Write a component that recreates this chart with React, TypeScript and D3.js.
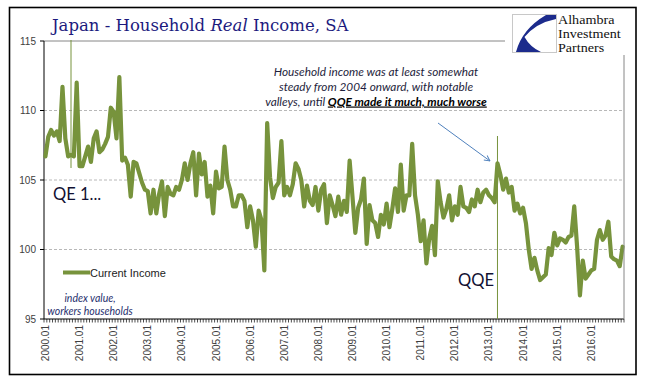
import React from "react";
import * as d3 from "d3";

const W = 645;
const H = 381;

const months: string[] = [];
for (let y = 2000; y <= 2016; y++) {
  for (let m = 1; m <= 12; m++) months.push(`${y}.${String(m).padStart(2, "0")}`);
}

const currentIncome = [
  106.7, 108.1, 108.6, 108.2, 108.5, 107.8, 111.7, 108.0, 106.7, 106.8, 106.7, 112.0,
  106.0, 106.0, 106.7, 107.4, 106.3, 108.0, 108.5, 107.0, 107.2, 107.6, 108.1, 110.2,
  109.9, 108.0, 112.4, 106.4, 106.6, 106.1, 103.8, 106.3, 106.2, 105.5, 104.8, 104.3,
  104.2, 102.6, 104.3, 102.6, 104.0, 104.9, 102.4, 104.5, 104.0, 103.9, 104.5, 104.3,
  105.0, 106.2, 105.0, 106.2, 107.0, 103.9, 106.9, 105.4, 106.3, 103.8, 104.6, 102.6,
  105.6, 104.4, 104.5, 107.4, 105.0, 104.3, 103.1, 103.1, 103.9, 103.9, 103.5, 101.6,
  103.1, 102.1, 100.2, 102.8, 102.1, 98.5, 109.1, 105.2, 103.7, 104.5, 104.8, 107.8,
  103.9, 104.5, 103.9, 104.7, 106.2, 105.8, 105.0, 103.1, 104.6, 103.5, 103.2, 104.5,
  102.8, 104.3, 104.7, 101.9, 103.9, 103.2, 102.4, 103.8, 102.5, 103.5, 102.7, 106.4,
  103.8, 101.2, 103.0, 103.6, 105.1, 100.4, 103.2, 102.1, 101.9, 100.9, 102.5, 101.8,
  103.3, 101.6, 102.9, 104.4, 102.7, 106.1, 102.8, 103.9, 103.9, 107.6, 103.9, 102.5,
  100.6, 102.1, 99.0, 100.8, 101.7, 99.6, 104.9, 103.4, 102.3, 102.9, 103.9, 102.1,
  103.1, 102.5, 104.5, 103.1, 103.0, 102.7, 103.6, 103.1, 104.3, 103.4, 104.1, 104.3,
  103.9, 103.7, 103.4, 106.2, 105.4, 104.3, 105.1, 104.1, 104.5, 102.8, 103.3, 102.6,
  103.0, 101.9, 100.0, 98.6, 99.4, 98.5, 97.8, 98.0, 98.2, 100.1, 99.6, 101.2,
  100.3, 100.8, 100.7, 100.5, 100.9, 101.0, 103.1, 100.2, 96.7, 99.2, 97.9, 98.2,
  98.5, 98.6, 100.7, 101.4, 100.7, 101.0, 102.0, 99.5, 99.3, 99.2, 98.8, 100.2,
];

const xTickLabels = [
  "2000.01", "2001.01", "2002.01", "2003.01", "2004.01", "2005.01", "2006.01", "2007.01",
  "2008.01", "2009.01", "2010.01", "2011.01", "2012.01", "2013.01", "2014.01", "2015.01", "2016.01",
];
const yTicks = [95, 100, 105, 110, 115];
const yGrid = [100, 105, 110];

const qe1Month = "2000.10";
const qqeMonth = "2013.04";

const annotationLines = [
  "Household income was at least somewhat",
  "steady from 2004 onward, with notable",
];
const annotationLast = "valleys, until ";
const annotationBold = "QQE made it much, much worse";
const logoLines = ["Alhambra", "Investment", "Partners"];

export default function App() {
  const left = 44;
  const right = 624;
  const top = 41;
  const bottom = 319;
  const n = months.length;

  const x = d3.scaleLinear().domain([0, n]).range([left, right]);
  const xc = (i: number) => x(i + 0.5);
  const y = d3.scaleLinear().domain([95, 115]).range([bottom, top]);

  const line = d3
    .line<number>()
    .x((_, i) => xc(i))
    .y((d) => y(d))
    .curve(d3.curveLinear);

  const qe1X = xc(months.indexOf(qe1Month));
  const qqeX = xc(months.indexOf(qqeMonth));

  const sans = "Liberation Sans, Arial, sans-serif";
  const cal = "Lato, 'Open Sans', sans-serif";

  return (
    <div style={{ position: "absolute", left: 0, top: 0, width: W, height: H, background: "#fff" }}>
      <svg width={W} height={H} viewBox={`0 0 ${W} ${H}`} style={{ display: "block" }}>
        <defs>
          <marker id="arr" viewBox="0 0 10 10" refX="9" refY="5" markerWidth="7" markerHeight="7" orient="auto">
            <path d="M1,1 L9,5 L1,9" fill="none" stroke="#4f81bd" strokeWidth="1.3" />
          </marker>
        </defs>
        <rect x={0} y={0} width={W} height={H} fill="#fff" />
        <rect x={9.5} y={7.5} width={626.5} height={367} fill="none" stroke="#000" strokeWidth={1.6} />

        {yGrid.map((v) => (
          <line key={v} x1={left} x2={right} y1={y(v)} y2={y(v)} stroke="#a6a6a6" strokeWidth={0.8} strokeDasharray="3,2" />
        ))}
        <line x1={left} x2={right} y1={top} y2={top} stroke="#868686" strokeWidth={1} />

        <line x1={left} x2={left} y1={top} y2={bottom} stroke="#000" strokeWidth={1} />
        {yTicks.map((v) => (
          <g key={v}>
            <line x1={left - 4} x2={left} y1={y(v)} y2={y(v)} stroke="#000" strokeWidth={1} />
            <text x={36} y={y(v)} dy="0.35em" textAnchor="end" fontFamily={sans} fontSize={10} fill="#404040">
              {v}
            </text>
          </g>
        ))}
        <line x1={left} x2={right} y1={bottom} y2={bottom} stroke="#000" strokeWidth={1} />
        {d3.range(n + 1).map((k) => (
          <line key={k} x1={x(k)} x2={x(k)} y1={bottom} y2={bottom + 3.5} stroke="#000" strokeWidth={0.7} />
        ))}
        {xTickLabels.map((lab) => {
          const cx = xc(months.indexOf(lab));
          return (
            <text
              key={lab}
              transform={`translate(${cx},${bottom + 6}) rotate(-90)`}
              dy="0.35em"
              textAnchor="end"
              fontFamily={sans}
              fontSize={10}
              fill="#404040"
            >
              {lab}
            </text>
          );
        })}

        <line x1={qe1X} x2={qe1X} y1={40} y2={168} stroke="#77933c" strokeWidth={1} />
        <line x1={qqeX} x2={qqeX} y1={136} y2={bottom} stroke="#77933c" strokeWidth={1} />

        <path d={line(currentIncome) || ""} fill="none" stroke="#77933c" strokeWidth={4.2} strokeLinejoin="round" strokeLinecap="round" />

        {/* logo */}
        <rect x={505} y={9} width={128} height={46} fill="#fff" />
        <rect x={512.5} y={14.5} width={44} height={38} fill="#fff" stroke="#c8c8c8" strokeWidth={1} />
        <path d="M556,15 L556,19 Q536,23 524.5,37 Q530,47 541,52 L516,52 Q522,29 546,15 Z" fill="#1c2b8c" />
        {logoLines.map((t, i) => (
          <text
            key={t}
            transform={`translate(558,${23.5 + i * 14}) scale(1.13,1)`}
            fontFamily="Liberation Serif, serif"
            fontSize={12.5}
            fill="#111"
          >
            {t}
          </text>
        ))}
        <line x1={right} x2={right} y1={55} y2={bottom} stroke="#868686" strokeWidth={1} />

        <text x={52} y={30.5} fontFamily="DejaVu Serif, serif" fontSize={16.5} fill="#1c1a7e">
          Japan - Household <tspan fontStyle="italic">Real</tspan> Income, SA
        </text>

        {annotationLines.map((t, i) => (
          <text key={i} x={376} y={75.5 + i * 15} textAnchor="middle" fontFamily={cal} fontStyle="italic" fontSize={11.8} fill="#1e1e3c">
            {t}
          </text>
        ))}
        <text x={376} y={105.5} textAnchor="middle" fontFamily={cal} fontStyle="italic" fontSize={11.8} fill="#1e1e3c">
          {annotationLast}
          <tspan fontWeight="bold" textDecoration="underline" fill="#000">
            {annotationBold}
          </tspan>
        </text>
        <line x1={438} y1={123} x2={490} y2={161} stroke="#4f81bd" strokeWidth={1} markerEnd="url(#arr)" />

        <text x={53} y={199.5} fontFamily={cal} fontSize={16.5} fill="#111133">
          QE 1...
        </text>
        <text x={458} y={286} fontFamily={cal} fontSize={16.5} fill="#111133">
          QQE
        </text>

        <line x1={63} x2={90} y1={272.5} y2={272.5} stroke="#77933c" strokeWidth={4} />
        <text x={90} y={276.5} fontFamily={sans} fontSize={11} fill="#222">
          Current Income
        </text>
        <text x={90} y={301.5} textAnchor="middle" fontFamily={cal} fontStyle="italic" fontSize={10.5} fill="#1f2f6e">
          index value,
        </text>
        <text x={90} y={314.5} textAnchor="middle" fontFamily={cal} fontStyle="italic" fontSize={10.5} fill="#1f2f6e">
          workers households
        </text>
      </svg>
    </div>
  );
}
